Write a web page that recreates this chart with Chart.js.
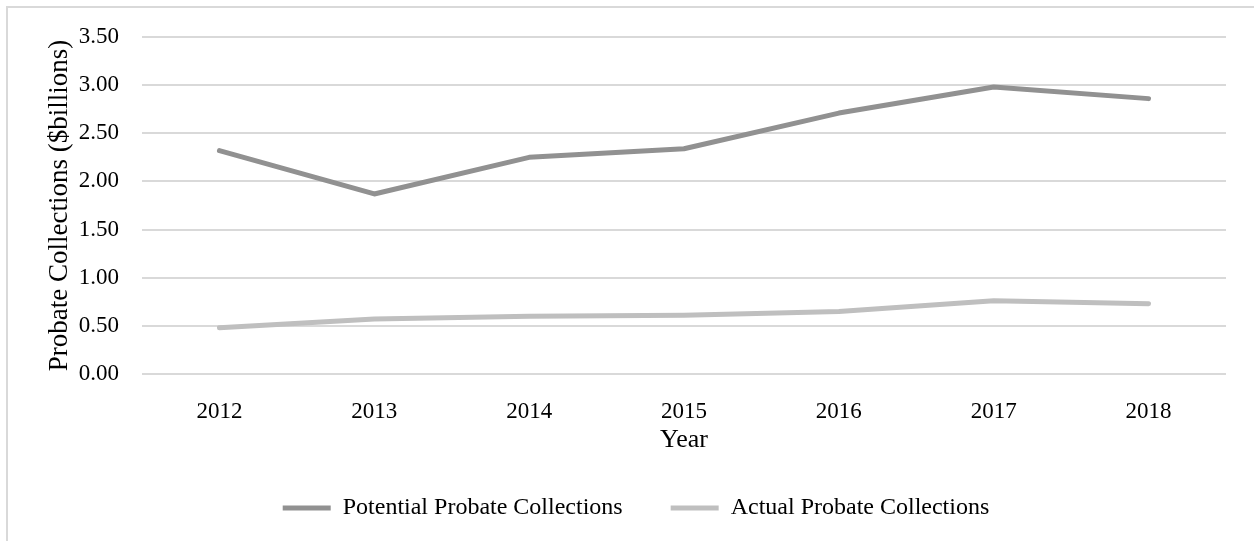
<!DOCTYPE html>
<html>
<head>
<meta charset="utf-8">
<script src="https://cdn.jsdelivr.net/npm/chart.js@4"></script>
<style>
    body { margin: 0; background: #fff; overflow: hidden; }
    #frame { position: absolute; left: 6px; top: 6px; width: 2000px; height: 2000px; border: 2px solid #d9d9d9; }
    #wrap { position: absolute; left: 0; top: 0; width: 1254px; height: 541px; }
</style>
</head>
<body>
<div id="frame"></div>
<div id="wrap"><canvas id="probate-chart"></canvas></div>
<script>
// Dữ liệu
const years = ['2012', '2013', '2014', '2015', '2016', '2017', '2018'];
const potentialCollections = [2.32, 1.87, 2.25, 2.34, 2.71, 2.98, 2.86];
const actualCollections = [0.48, 0.57, 0.60, 0.61, 0.65, 0.76, 0.73];

const serif = 'Liberation Serif';

const ctx = document.getElementById('probate-chart').getContext('2d');
const probateChart = new Chart(ctx, {
    type: 'line',
    data: {
        labels: years,
        datasets: [
            {
                label: 'Potential Probate Collections',
                data: potentialCollections,
                borderColor: '#919191',
                backgroundColor: '#919191',
                borderWidth: 5,
                pointRadius: 0,
                borderCapStyle: 'round',
                borderJoinStyle: 'round'
            },
            {
                label: 'Actual Probate Collections',
                data: actualCollections,
                borderColor: '#bfbfbf',
                backgroundColor: '#bfbfbf',
                borderWidth: 5,
                pointRadius: 0,
                borderCapStyle: 'round',
                borderJoinStyle: 'round'
            }
        ]
    },
    options: {
        responsive: true,
        maintainAspectRatio: false,
        animation: false,
        layout: {
            padding: { top: 37, left: 46, right: 28, bottom: 11 }
        },
        plugins: {
            tooltip: { enabled: false },
            legend: {
                position: 'bottom',
                labels: {
                    color: '#000',
                    font: { family: serif, size: 24 },
                    boxWidth: 48,
                    boxHeight: 5,
                    padding: 48,
                    generateLabels: function (chart) {
                        // bỏ viền của ô legend, chỉ giữ thanh màu
                        return Chart.defaults.plugins.legend.labels.generateLabels(chart)
                            .map(item => Object.assign(item, { lineWidth: 0 }));
                    }
                }
            }
        },
        scales: {
            x: {
                offset: true,
                grid: { display: false },
                border: { display: false },
                ticks: {
                    color: '#000',
                    font: { family: serif, size: 23 },
                    padding: 16,
                    maxRotation: 0
                },
                title: {
                    display: true,
                    text: 'Year',
                    color: '#000',
                    font: { family: serif, size: 26 },
                    padding: { top: 0, bottom: -8 }
                },
                afterFit: function (scale) {
                    scale.height = 74;
                }
            },
            y: {
                min: 0,
                max: 3.5,
                grid: {
                    color: '#d9d9d9',
                    lineWidth: 2,
                    drawTicks: false
                },
                border: { display: false },
                ticks: {
                    stepSize: 0.5,
                    color: '#000',
                    font: { family: serif, size: 23 },
                    padding: 23,
                    callback: value => value.toFixed(2)
                },
                title: {
                    display: true,
                    text: 'Probate Collections ($billions)',
                    color: '#000',
                    font: { family: serif, size: 27 },
                    padding: { top: -2, bottom: 0 }
                },
                afterFit: function (scale) {
                    scale.width = 96;
                }
            }
        }
    }
});
</script>
</body>
</html>
